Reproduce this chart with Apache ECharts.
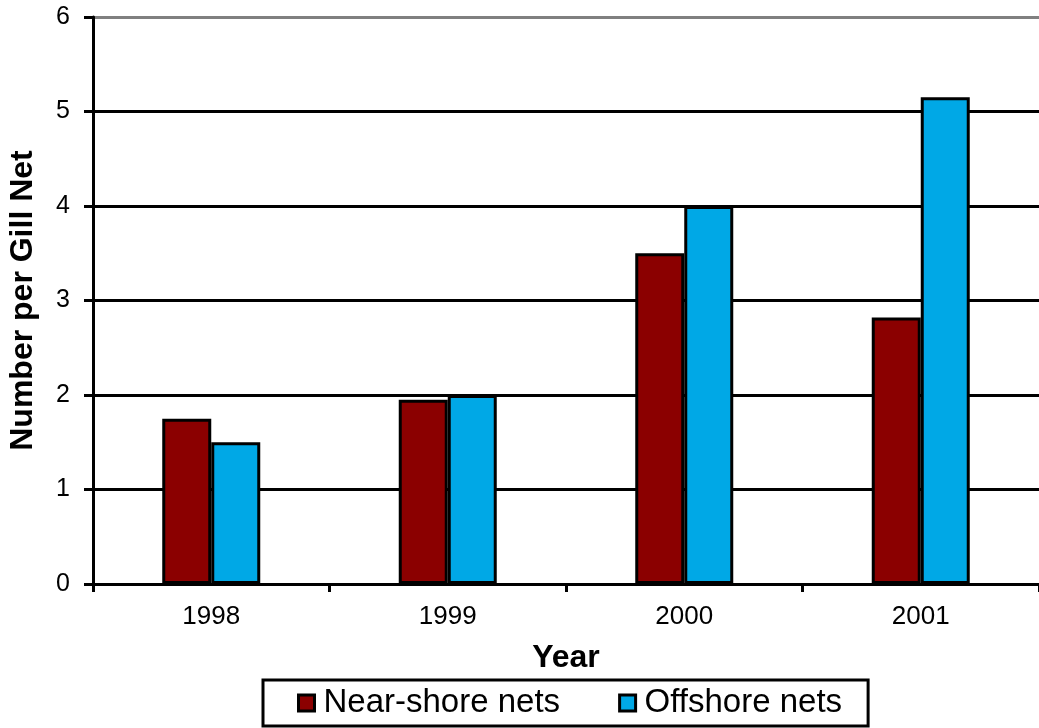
<!DOCTYPE html>
<html>
<head>
<meta charset="utf-8">
<script src="https://cdn.jsdelivr.net/npm/echarts@6/dist/echarts.min.js"></script>
<style>
  html, body { margin: 0; padding: 0; background: #fff; }
  #main { width: 1039px; height: 728px; }
</style>
</head>
<body>
<div id="main"></div>
<script>
// data
var years = ['1998', '1999', '2000', '2001'];
var nearShore = [1.75, 1.95, 3.5, 2.82];
var offshore = [1.5, 2.0, 4.0, 5.15];

var myChart = echarts.init(document.getElementById('main'));
var font = 'Liberation Sans, Arial, sans-serif';

var option = {
    animation: false,
    backgroundColor: '#fff',
    grid: { left: 93, right: 0, top: 17, bottom: 144, outerBoundsMode: 'none' },
    legend: {
        left: 263,
        top: 680,
        orient: 'horizontal',
        borderColor: '#000',
        borderWidth: 3,
        padding: [4, 26, 4, 34],
        itemGap: 58,
        icon: 'rect',
        itemWidth: 16,
        itemHeight: 16,
        itemStyle: { borderColor: '#000', borderWidth: 3 },
        textStyle: { fontFamily: font, fontSize: 33, color: '#000', lineHeight: 38, padding: [0, 0, 0, 4] },
        data: ['Near-shore nets', 'Offshore nets']
    },
    xAxis: {
        type: 'category',
        data: years,
        name: 'Year',
        nameLocation: 'middle',
        nameGap: 58,
        nameTextStyle: { fontFamily: font, fontSize: 32, fontWeight: 'bold', color: '#000' },
        axisLine: { lineStyle: { color: '#000', width: 3 } },
        axisTick: { show: true, length: 8, lineStyle: { color: '#000', width: 3 } },
        axisLabel: { fontFamily: font, fontSize: 26, color: '#000', margin: 20 }
    },
    yAxis: {
        type: 'value',
        min: 0,
        max: 6,
        interval: 1,
        name: 'Number per Gill Net',
        nameLocation: 'middle',
        nameGap: 54,
        nameTextStyle: { fontFamily: font, fontSize: 32, fontWeight: 'bold', color: '#000' },
        axisLine: { show: true, lineStyle: { color: '#000', width: 3 } },
        axisTick: { show: true, length: 9, lineStyle: { color: '#000', width: 3 } },
        axisLabel: { fontFamily: font, fontSize: 25, color: '#000', margin: 23 },
        splitLine: {
            show: true,
            lineStyle: {
                color: ['#000', '#000', '#000', '#000', '#000', '#000', '#808080'],
                width: 3
            }
        }
    },
    series: [
        {
            name: 'Near-shore nets',
            type: 'bar',
            data: nearShore,
            barWidth: 49,
            barGap: '0%',
            itemStyle: { color: '#8b0000', borderColor: '#000', borderWidth: 3 }
        },
        {
            name: 'Offshore nets',
            type: 'bar',
            data: offshore,
            barWidth: 49,
            itemStyle: { color: '#00a8e6', borderColor: '#000', borderWidth: 3 }
        }
    ]
};

myChart.setOption(option);
</script>
</body>
</html>
